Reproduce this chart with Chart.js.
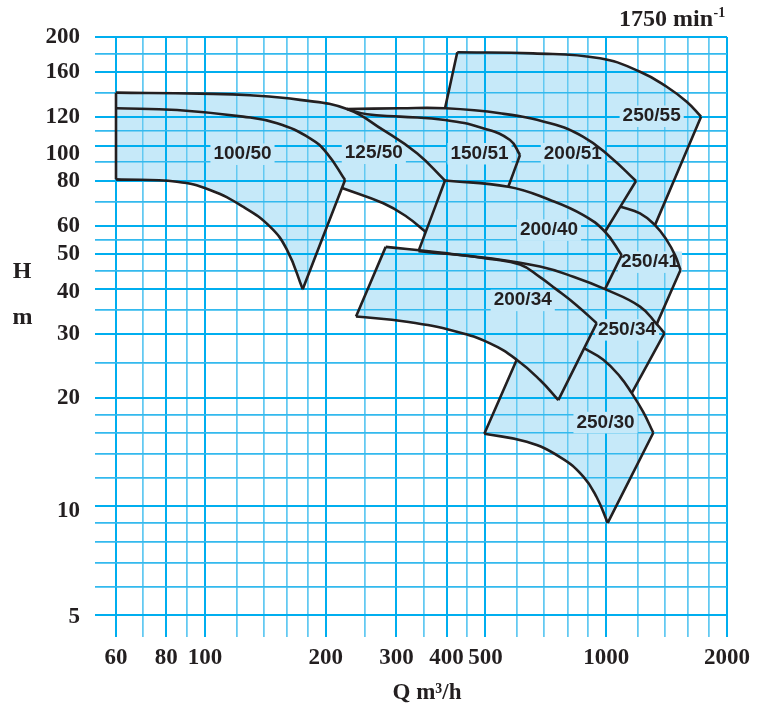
<!DOCTYPE html>
<html>
<head>
<meta charset="utf-8">
<script src="https://cdn.jsdelivr.net/npm/chart.js@4/dist/chart.umd.min.js"></script>
<style>
  body { margin: 0; background: #fff; }
  canvas { display: block; }
</style>
</head>
<body>
<canvas id="abaque" width="774" height="704"></canvas>
<script>
const max125_50 = [[60, 140.2], [97.2, 139.3], [129.5, 137.9], [172.5, 133.9], [225.9, 126.3], [277.8, 110.5], [337.6, 95.2], [396.5, 80.0]];
const max100_50 = [[60, 126.9], [85.2, 125.5], [124.4, 120.3], [151.2, 115.3], [182.7, 104.8], [201.4, 95.2], [223.4, 80.3]];
const min100_50 = [[60, 80.6], [85.1, 79.4], [102.9, 75.3], [124.4, 67.7], [145.2, 59.6], [160.1, 51.4], [175.2, 40.0]];
const min125_50 = [[219.6, 76.3], [278.3, 69.2], [318.3, 63.5], [354.5, 57.7]];
const max150_51 = [[225.9, 126.3], [253.4, 122.1], [306.3, 120.3], [396.5, 117.8], [493.1, 111.7], [575.7, 103.6], [609.7, 94.2]];
const max200_40 = [[396.5, 80.0], [570.1, 76.9], [724.3, 70.7], [876.8, 64.2], [993.1, 57.7], [1093, 49.7]];
const max200_51 = [[225.9, 126.3], [306.3, 126.9], [396.5, 126.9], [543.6, 122.9], [724.3, 115.3], [876.8, 105.8], [1022, 93.2], [1186.5, 79.8]];
const max250_55 = [[425.4, 181.4], [656.9, 180.2], [965, 174.6], [1214, 160.2], [1415, 145.6], [1587, 132.3], [1723.4, 120.3]];
const max250_41 = [[1085.5, 67.7], [1214, 64.9], [1323, 60.2], [1415, 54.7], [1484, 49.7], [1531.6, 45.2]];
const max250_34 = [[340.5, 51.0], [513.3, 48.7], [683.9, 46.2], [828, 43.3], [993.1, 40.0], [1214, 35.8], [1336, 32.0], [1397.3, 30.2]];
const max200_34 = [[282.1, 52.4], [385.3, 50.5], [513.3, 48.5], [609.7, 46.8], [683.9, 43.2], [745.4, 40.2], [836.1, 36.4], [946.9, 32.2]];
const min200_34 = [[237.9, 33.6], [318.3, 32.5], [424.0, 30.5], [513.3, 28.3], [598.3, 25.5], [683.9, 22.4], [759.7, 19.7]];
const max250_30 = [[882.9, 27.4], [983.4, 25.5], [1082.4, 22.9], [1157.6, 20.6], [1235.1, 18.3], [1310.2, 16.0]];
const min250_30 = [[496.8, 15.9], [633.6, 15.1], [767.1, 13.7], [876.8, 12.1], [946.9, 10.6], [1008.6, 9.0]];

// Etiquettes des pompes
const pompes = ["100/50", "125/50", "150/51", "200/51", "250/55", "200/40", "250/41", "200/34", "250/34", "250/30"];
const pompesQ = [124, 263.5, 483.3, 825.6, 1298, 720.1, 1285.7, 619.3, 1126.8, 995.9];
const pompesH = [94.8, 95.4, 95.1, 95.1, 120.8, 58.4, 47.6, 37.3, 30.9, 17.1];

// Graduations
const grilleQ = [60, 70, 80, 90, 100, 120, 140, 160, 180, 200, 250, 300, 350, 400, 450, 500, 600, 700, 800, 900, 1000, 1200, 1400, 1600, 1800, 2000];
const labelsQ = [60, 80, 100, 200, 300, 400, 500, 1000, 2000];
const grilleH = [5, 6, 7, 8, 9, 10, 12, 14, 16, 18, 20, 25, 30, 35, 40, 45, 50, 55, 60, 70, 80, 90, 100, 110, 120, 140, 160, 180, 200];
const labelsH = [5, 10, 20, 30, 40, 50, 60, 80, 100, 120, 160, 200];

const FOND = "#c6e9f9";
const ENCRE = "#231f20";
const BLEU = "#00aeef";
// petit décalage vertical (px) de certains chiffres de l'axe H, comme sur l'original
const decalageH = { 100: 8, 40: 3, 10: 5, 5: 2 };

const last = a => a[a.length - 1];
const rev = a => a.slice().reverse();
const pts = a => a.map(p => ({ x: p[0], y: p[1] }));
// contour fermé : chaque morceau garde ses coins nets (points doublés)
function contour(...morceaux) {
  const out = [];
  morceaux.forEach(m => out.push(m[0], ...m, last(m)));
  return out;
}

// arêtes droites entre les extrémités des courbes
const aretes = [
  [max125_50[0], min100_50[0]],
  [last(max100_50), last(min100_50)],
  [last(max125_50), max250_34[0]],
  [last(max150_51), max200_40[1]],
  [last(max200_51), max200_40[4]],
  [max200_51[2], max250_55[0]],
  [last(max250_55), max250_41[2]],
  [last(max250_41), max250_34[6]],
  [last(max200_40), max250_34[4]],
  [last(max250_34), max250_30[3]],
  [max200_34[0], min200_34[0]],
  [last(max200_34), last(min200_34)],
  [last(max250_30), last(min250_30)],
  [min250_30[0], min200_34[4]]
];

const traits = [max125_50, max100_50, min100_50, min125_50, max150_51, max200_40, max200_51,
  max250_55, max250_41, max250_34, max200_34, min200_34, max250_30, min250_30, ...aretes];

const zones = [
  contour(max100_50, rev(min100_50)),
  contour(max125_50, rev(min125_50), rev(max100_50)),
  contour(max150_51, rev(max200_40.slice(0, 2)), rev(max125_50.slice(4))),
  contour(max200_51, rev(max200_40.slice(1, 5)), rev(max150_51)),
  contour(max250_55, rev(max250_41.slice(0, 3)), rev(max200_51.slice(2))),
  contour(max200_40, rev(max250_34.slice(0, 5))),
  contour(max250_41, rev(max250_34.slice(4, 7)), rev(max200_40.slice(4))),
  contour(max200_34, rev(min200_34)),
  contour(max250_34, rev(max250_30.slice(0, 4)), rev(max200_34.slice(1))),
  contour(min200_34.slice(4), max250_30, rev(min250_30))
];

const datasets = [];
traits.forEach(t => datasets.push({
  data: pts(t), showLine: true, borderColor: ENCRE, borderWidth: 2.6, tension: 0.45,
  pointRadius: 0, fill: false, order: 1, clip: 4, kind: "trait"
}));
zones.forEach(z => datasets.push({
  data: pts(z), showLine: true, borderColor: FOND, borderWidth: 1.5, backgroundColor: FOND,
  tension: 0.45, pointRadius: 0, fill: "shape", order: 2, kind: "zone"
}));

const estMajeur = (c, liste) => c.tick && liste.includes(c.tick.value);

const police = 'bold 19px "Liberation Sans", Arial, sans-serif';
const serif = '"Liberation Serif", "Times New Roman", serif';

function boiteEtiquette(ctx, x, y, w) {
  ctx.fillStyle = FOND;
  ctx.fillRect(x - w / 2 - 3, y - 10.5, w + 6, 21.5);
}

const habillage = {
  id: "habillage",
  beforeDatasetsDraw(chart) { chart.$grilleFaite = false; },
  beforeDatasetDraw(chart, args) {
    const ds = chart.data.datasets[args.index];
    if (ds.kind !== "trait" || chart.$grilleFaite) return;
    chart.$grilleFaite = true;
    // la grille reste visible par-dessus les zones bleues
    chart.scales.x.drawGrid(chart.chartArea);
    chart.scales.y.drawGrid(chart.chartArea);
    const ctx = chart.ctx;
    ctx.save();
    ctx.font = police;
    for (let i = 0; i < pompes.length; i++) {
      const x = chart.scales.x.getPixelForValue(pompesQ[i]);
      const y = chart.scales.y.getPixelForValue(pompesH[i]);
      boiteEtiquette(ctx, x, y, ctx.measureText(pompes[i]).width);
    }
    ctx.restore();
  },
  afterDatasetsDraw(chart) {
    const ctx = chart.ctx;
    ctx.save();
    ctx.font = police;
    ctx.fillStyle = ENCRE;
    ctx.textAlign = "center";
    ctx.textBaseline = "middle";
    for (let i = 0; i < pompes.length; i++) {
      const x = chart.scales.x.getPixelForValue(pompesQ[i]);
      const y = chart.scales.y.getPixelForValue(pompesH[i]);
      ctx.fillText(pompes[i], x, y);
    }
    ctx.restore();
  },
  afterDraw(chart) {
    const ctx = chart.ctx;
    const yScale = chart.scales.y;
    ctx.save();
    ctx.fillStyle = ENCRE;
    // chiffres de l'axe H
    ctx.font = "bold 23px " + serif;
    ctx.textAlign = "right";
    ctx.textBaseline = "middle";
    labelsH.forEach(v => {
      ctx.fillText(String(v), 80, yScale.getPixelForValue(v) + (decalageH[v] || 0));
    });
    ctx.textBaseline = "alphabetic";
    ctx.textAlign = "center";
    ctx.font = "bold 24px " + serif;
    ctx.fillText("H", 22, 278);
    ctx.fillText("m", 22.5, 324);
    ctx.font = "bold 23px " + serif;
    ctx.fillText("Q m\u00b3/h", 427, 699);
    ctx.font = "bold 24px " + serif;
    ctx.textAlign = "right";
    ctx.fillText("1750 min", 713, 26);
    ctx.font = "bold 14px " + serif;
    ctx.textAlign = "left";
    ctx.fillText("-1", 713.5, 17);
    ctx.restore();
  }
};

new Chart(document.getElementById("abaque"), {
  type: "scatter",
  data: { datasets: datasets },
  options: {
    responsive: false,
    animation: false,
    events: [],
    layout: { padding: { left: 0, right: 47, top: 37, bottom: 0 } },
    plugins: { legend: { display: false }, tooltip: { enabled: false } },
    scales: {
      x: {
        type: "logarithmic",
        min: 60,
        max: 2000,
        afterBuildTicks: s => { s.ticks = grilleQ.map(v => ({ value: v })); },
        afterFit: s => { s.height = 89; },
        border: { display: false },
        grid: {
          color: c => estMajeur(c, labelsQ) ? BLEU : "#62c9f2",
          lineWidth: c => estMajeur(c, labelsQ) ? 2 : 1.5,
          tickLength: 22
        },
        ticks: {
          autoSkip: false, maxRotation: 0, minRotation: 0, padding: 7,
          color: ENCRE, font: { family: serif, size: 23, weight: "bold" },
          callback: v => labelsQ.includes(v) ? String(v) : ""
        }
      },
      y: {
        type: "logarithmic",
        min: 5,
        max: 200,
        afterBuildTicks: s => { s.ticks = grilleH.map(v => ({ value: v })); },
        afterFit: s => { s.width = 116; },
        border: { display: false },
        grid: {
          color: c => estMajeur(c, labelsH) ? BLEU : "#33b9ee",
          lineWidth: c => estMajeur(c, labelsH) ? 2 : 1.5,
          tickLength: 21
        },
        ticks: { display: false }
      }
    }
  },
  plugins: [habillage]
});
</script>
</body>
</html>
